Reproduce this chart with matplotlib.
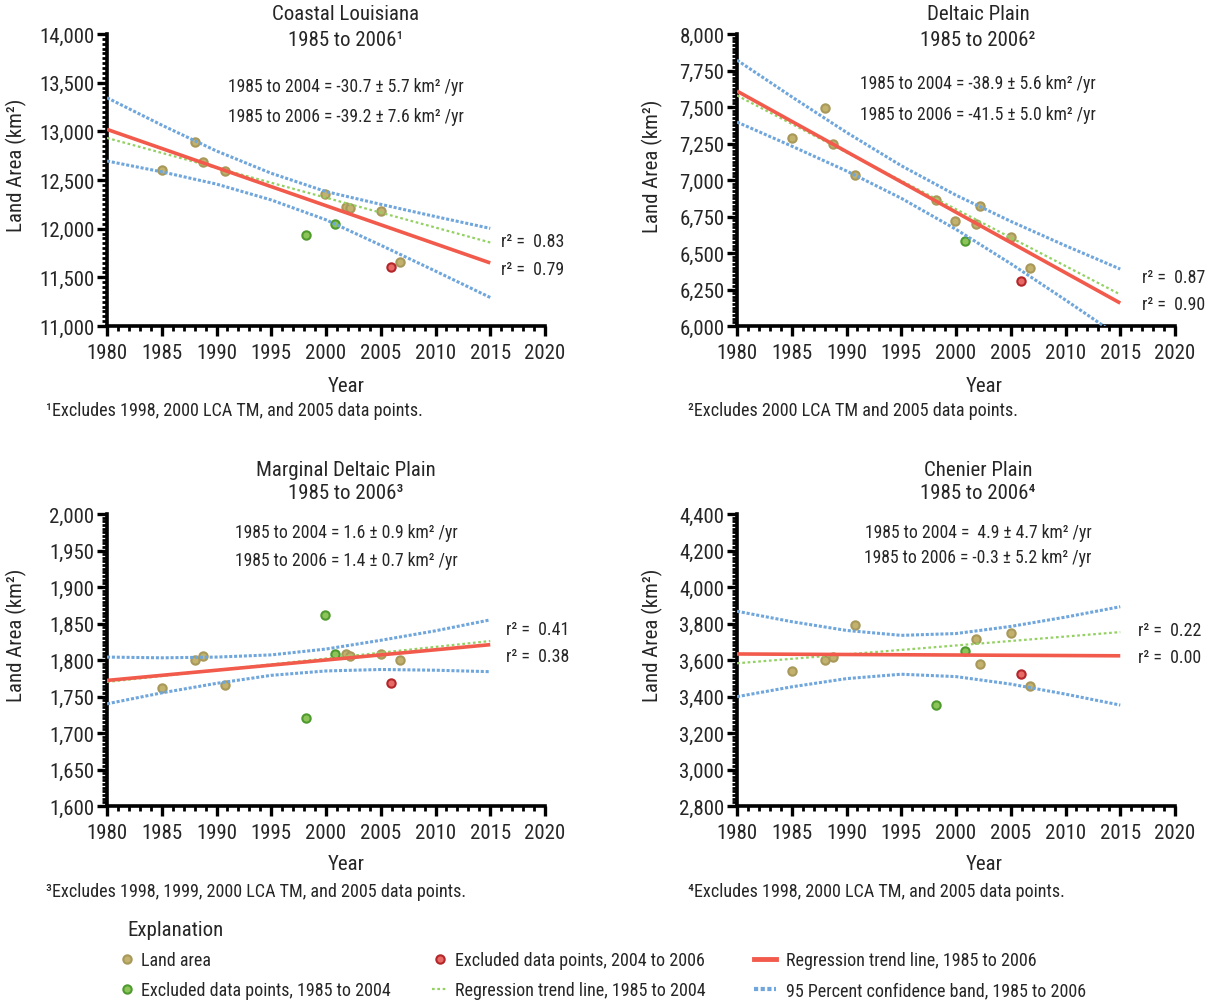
import matplotlib
matplotlib.use('Agg')
import matplotlib.pyplot as plt
from matplotlib import font_manager
from matplotlib.ticker import MultipleLocator, AutoMinorLocator, FuncFormatter
from matplotlib.lines import Line2D

# pick a condensed sans if one is installed, else the narrowest regular sans
_names = {f.name for f in font_manager.fontManager.ttflist}
_prefs = [('Liberation Sans Narrow', 0.95), ('Roboto Condensed', 1.0), ('Noto Sans Condensed', 0.95),
          ('Open Sans Condensed', 0.95), ('Liberation Sans', 0.86)]
FONT, FS = 'DejaVu Sans', 0.78
for _n, _s in _prefs:
    if _n in _names:
        FONT, FS = _n, _s
        break
plt.rcParams['font.family'] = [FONT, 'DejaVu Sans']
TEXT = '#262626'

# ---------------- data ----------------
# Coastal Louisiana
cl_land_years = [1985.0, 1988.0, 1988.75, 1990.75, 1999.9, 2001.8, 2002.2, 2005.0, 2006.8]
cl_land_area = [12600, 12895, 12680, 12590, 12358, 12225, 12210, 12178, 11662]
cl_excl_early_years = [1998.2, 2000.8]
cl_excl_early_area = [11940, 12044]
cl_excl_late_years = [2005.9]
cl_excl_late_area = [11610]
cl_reg06 = [13020, 11648]
cl_reg04 = [12932, 11858]
cl_band_upper = [13345, 13064, 12798, 12569, 12381, 12250, 12124, 12003]
cl_band_lower = [12695, 12584, 12458, 12295, 12091, 11830, 11564, 11293]

# Deltaic Plain
dp_land_years = [1985.0, 1988.0, 1988.75, 1990.75, 1998.2, 1999.9, 2001.8, 2002.2, 2005.0, 2006.8]
dp_land_area = [7290, 7492, 7248, 7032, 6860, 6720, 6701, 6822, 6612, 6398]
dp_excl_early_years = [2000.8]
dp_excl_early_area = [6580]
dp_excl_late_years = [2005.9]
dp_excl_late_area = [6311]
dp_reg06 = [7609, 6157]
dp_reg04 = [7579, 6216]
dp_band_upper = [7821, 7570, 7326, 7098, 6896, 6717, 6550, 6390]
dp_band_lower = [7397, 7232, 7062, 6875, 6662, 6427, 6178, 5923]

# Marginal Deltaic Plain
mdp_land_years = [1985.0, 1988.0, 1988.75, 1990.75, 2001.8, 2002.2, 2005.0, 2006.8]
mdp_land_area = [1761, 1800, 1805, 1766, 1808, 1805, 1808, 1800]
mdp_excl_early_years = [1998.2, 1999.9, 2000.8]
mdp_excl_early_area = [1720, 1862, 1808]
mdp_excl_late_years = [2005.9]
mdp_excl_late_area = [1769]
mdp_reg06 = [1772, 1821]
mdp_reg04 = [1770, 1826]
mdp_band_upper = [1804, 1803, 1804, 1807, 1815, 1827, 1840, 1855]
mdp_band_lower = [1740, 1755, 1768, 1779, 1785, 1787, 1786, 1784]

# Chenier Plain
cp_land_years = [1985.0, 1988.0, 1988.75, 1990.75, 2001.8, 2002.2, 2005.0, 2006.8]
cp_land_area = [3540, 3601, 3617, 3790, 3715, 3577, 3750, 3460]
cp_excl_early_years = [1998.2, 2000.8]
cp_excl_early_area = [3352, 3650]
cp_excl_late_years = [2005.9]
cp_excl_late_area = [3525]
cp_reg06 = [3633, 3623]
cp_reg04 = [3582, 3753]
cp_band_upper = [3867, 3810, 3762, 3735, 3745, 3784, 3835, 3892]
cp_band_lower = [3399, 3453, 3498, 3522, 3509, 3468, 3413, 3353]

reg_years = [1980, 2015]
band_years = [1980, 1985, 1990, 1995, 2000, 2005, 2010, 2015]

titles = ['Coastal Louisiana', 'Deltaic Plain', 'Marginal Deltaic Plain', 'Chenier Plain']
subtitles = ['1985 to 2006\u00b9', '1985 to 2006\u00b2', '1985 to 2006\u00b3', '1985 to 2006\u2074']
rate04 = ['1985 to 2004 = -30.7 \u00b1 5.7 km\u00b2 /yr', '1985 to 2004 = -38.9 \u00b1 5.6 km\u00b2 /yr',
          '1985 to 2004 = 1.6 \u00b1 0.9 km\u00b2 /yr', '1985 to 2004 =  4.9 \u00b1 4.7 km\u00b2 /yr']
rate06 = ['1985 to 2006 = -39.2 \u00b1 7.6 km\u00b2 /yr', '1985 to 2006 = -41.5 \u00b1 5.0 km\u00b2 /yr',
          '1985 to 2006 = 1.4 \u00b1 0.7 km\u00b2 /yr', '1985 to 2006 = -0.3 \u00b1 5.2 km\u00b2 /yr']
r2_04 = ['0.83', '0.87', '0.41', '0.22']
r2_06 = ['0.79', '0.90', '0.38', '0.00']
footnotes = ['\u00b9Excludes 1998, 2000 LCA TM, and 2005 data points.',
             '\u00b2Excludes 2000 LCA TM and 2005 data points.',
             '\u00b3Excludes 1998, 1999, 2000 LCA TM, and 2005 data points.',
             '\u2074Excludes 1998, 2000 LCA TM, and 2005 data points.']
y_ranges = [(11000, 14000, 500), (6000, 8000, 250), (1600, 2000, 50), (2800, 4400, 200)]

panels = [
    dict(land=(cl_land_years, cl_land_area), early=(cl_excl_early_years, cl_excl_early_area),
         late=(cl_excl_late_years, cl_excl_late_area), reg06=cl_reg06, reg04=cl_reg04,
         up=cl_band_upper, lo=cl_band_lower),
    dict(land=(dp_land_years, dp_land_area), early=(dp_excl_early_years, dp_excl_early_area),
         late=(dp_excl_late_years, dp_excl_late_area), reg06=dp_reg06, reg04=dp_reg04,
         up=dp_band_upper, lo=dp_band_lower),
    dict(land=(mdp_land_years, mdp_land_area), early=(mdp_excl_early_years, mdp_excl_early_area),
         late=(mdp_excl_late_years, mdp_excl_late_area), reg06=mdp_reg06, reg04=mdp_reg04,
         up=mdp_band_upper, lo=mdp_band_lower),
    dict(land=(cp_land_years, cp_land_area), early=(cp_excl_early_years, cp_excl_early_area),
         late=(cp_excl_late_years, cp_excl_late_area), reg06=cp_reg06, reg04=cp_reg04,
         up=cp_band_upper, lo=cp_band_lower),
]

# ---------------- styles ----------------
LAND = dict(mfc='#c2b26e', mec='#a8985a')
EARLY = dict(mfc='#8cc45a', mec='#4f9a2e')
LATE = dict(mfc='#e86a66', mec='#b3262a')
RED = '#f25a4c'
GREEN = '#93d162'
BLUE = '#6fa6dc'
MS = 6.0
MEW = 1.5

F_TICK = 15.0 * FS
F_TITLE = 15.0 * FS
F_ANN = 12.7 * FS
F_R2 = 12.9 * FS
F_FOOT = 13.1 * FS
F_LEG = 13.0 * FS

W, H = 1211, 1004
fig = plt.figure(figsize=(W / 100, H / 100), dpi=100)


def fx(px):
    return px / W


def fy(py):
    return 1 - py / H


axes_px = [(107, 35, 545, 327), (737, 35, 1175, 327), (107, 515, 545, 807), (737, 515, 1175, 807)]
title_y = [(14, 40, 87, 117), (14, 40, 84, 115), (470, 494, 533, 561), (470, 494, 533, 558)]
title_x = [346, 978, 346, 978]
ylabel_pos = [(16, 165), (652, 166), (16, 635), (652, 635)]
xlabel_pos = [(346, 387), (984, 387), (346, 865), (984, 865)]
foot_pos = [(46, 411), (688, 411), (46, 892), (688, 892)]
r2_pos = [(2016.0, 11870, 11590), (2017.0, 6333, 6154), (2016.4, 1842, 1805), (2016.6, 3766, 3618)]

for i, p in enumerate(panels):
    l, t, r, b = axes_px[i]
    ax = fig.add_axes([fx(l), fy(b), (r - l) / W, (b - t) / H])
    ymin, ymax, ystep = y_ranges[i]

    ax.plot(*p['land'], ls='none', marker='o', ms=MS, mew=MEW, zorder=2, **LAND)
    ax.plot(*p['early'], ls='none', marker='o', ms=MS, mew=MEW, zorder=2, **EARLY)
    ax.plot(*p['late'], ls='none', marker='o', ms=MS, mew=MEW, zorder=2, **LATE)
    ax.plot(reg_years, p['reg04'], color=GREEN, lw=1.6, ls=(0, (1.2, 1.2)), zorder=3)
    ax.plot(reg_years, p['reg06'], color=RED, lw=2.6, solid_capstyle='butt', zorder=3)
    ax.plot(band_years, p['up'], color=BLUE, lw=2.2, ls=(0, (1, 0.6)), zorder=4)
    ax.plot(band_years, p['lo'], color=BLUE, lw=2.2, ls=(0, (1, 0.6)), zorder=4)

    ax.set_xlim(1980, 2020)
    ax.set_ylim(ymin, ymax)
    for s in ['top', 'right']:
        ax.spines[s].set_visible(False)
    for s in ['left', 'bottom']:
        ax.spines[s].set_linewidth(2.6)
        ax.spines[s].set_color('black')
    ax.xaxis.set_major_locator(MultipleLocator(5))
    ax.xaxis.set_minor_locator(MultipleLocator(1))
    ax.yaxis.set_major_locator(MultipleLocator(ystep))
    ax.yaxis.set_minor_locator(AutoMinorLocator(10))
    ax.yaxis.set_major_formatter(FuncFormatter(lambda v, pos: f'{v:,.0f}'))
    ax.tick_params(which='major', length=7, width=2.4, direction='out', labelsize=F_TICK,
                   color='black', labelcolor=TEXT)
    ax.tick_params(axis='x', which='major', pad=5)
    ax.tick_params(axis='y', which='major', pad=2)
    ax.tick_params(which='minor', length=3.5, width=2.0, direction='out', color='black')

    cx = title_x[i]
    ty1, ty2, ay1, ay2 = title_y[i]
    fig.text(fx(cx), fy(ty1), titles[i], ha='center', va='center', fontsize=F_TITLE, color=TEXT)
    fig.text(fx(cx), fy(ty2), subtitles[i], ha='center', va='center', fontsize=F_TITLE, color=TEXT)
    fig.text(fx(cx), fy(ay1), rate04[i], ha='center', va='center', fontsize=F_ANN, color=TEXT)
    fig.text(fx(cx), fy(ay2), rate06[i], ha='center', va='center', fontsize=F_ANN, color=TEXT)

    rx, ry1, ry2 = r2_pos[i]
    ax.text(rx, ry1, 'r\u00b2 =  ' + r2_04[i], fontsize=F_R2, color=TEXT, va='center', ha='left', clip_on=False)
    ax.text(rx, ry2, 'r\u00b2 =  ' + r2_06[i], fontsize=F_R2, color=TEXT, va='center', ha='left', clip_on=False)

    yx, yy = ylabel_pos[i]
    fig.text(fx(yx), fy(yy), 'Land Area (km\u00b2)', rotation=90, ha='center', va='center',
             fontsize=F_TITLE, color=TEXT)
    xx, xy = xlabel_pos[i]
    fig.text(fx(xx), fy(xy), 'Year', ha='center', va='center', fontsize=F_TITLE, color=TEXT)
    ftx, fty = foot_pos[i]
    fig.text(fx(ftx), fy(fty), footnotes[i], ha='left', va='center', fontsize=F_FOOT, color=TEXT)

# ---------------- legend ----------------
fig.text(fx(127), fy(931), 'Explanation', ha='left', va='center', fontsize=F_TITLE, color=TEXT)

h_land = Line2D([], [], ls='none', marker='o', ms=MS, mew=MEW, **LAND)
h_early = Line2D([], [], ls='none', marker='o', ms=MS, mew=MEW, **EARLY)
h_late = Line2D([], [], ls='none', marker='o', ms=MS, mew=MEW, **LATE)
h_reg04 = Line2D([], [], color=GREEN, lw=1.6, ls=(0, (1.2, 1.2)))
h_reg06 = Line2D([], [], color=RED, lw=3.5)
h_band = Line2D([], [], color=BLUE, lw=3, ls=(0, (1, 0.6)))

px_em = F_LEG / 72 * 100
groups = [
    ([h_land, h_early], ['Land area', 'Excluded data points, 1985 to 2004'], 119, 16, 6),
    ([h_late, h_reg04], ['Excluded data points, 2004 to 2006', 'Regression trend line, 1985 to 2004'], 432, 16, 7),
    ([h_reg06, h_band], ['Regression trend line, 1985 to 2006', '95 Percent confidence band, 1985 to 2006'], 754, 22, 10),
]
for handles, labels, x0, hl_px, hp_px in groups:
    fig.legend(handles, labels, loc='upper left', bbox_to_anchor=(fx(x0), fy(952)),
               frameon=False, fontsize=F_LEG, handlelength=hl_px / px_em, handletextpad=hp_px / px_em,
               labelspacing=(30 - px_em) / px_em, borderpad=0, borderaxespad=0, labelcolor=TEXT)

fig.savefig('out.png', dpi=100)
